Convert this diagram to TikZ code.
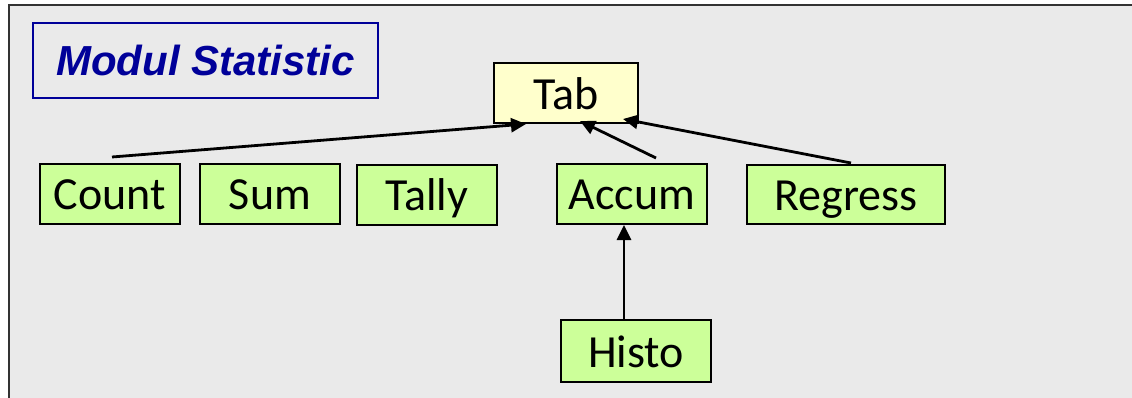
\documentclass[tikz,border=0pt]{standalone}
\usepackage{fontspec}
\setmainfont{Carlito}
\newfontfamily\titlefont{Liberation Sans}
\usetikzlibrary{arrows.meta}
\definecolor{bggray}{HTML}{EAEAEA}
\definecolor{boxgreen}{HTML}{CCFF99}
\definecolor{boxyellow}{HTML}{FFFFCC}
\definecolor{titleblue}{HTML}{000099}
\definecolor{framegray}{HTML}{333333}
\tikzset{
  cls/.style={draw=black, line width=2pt, fill=boxgreen, inner sep=0pt, anchor=north west,
    font=\fontsize{46}{50}\selectfont, text height=36pt, text depth=4pt},
  tabbox/.style={cls, fill=boxyellow},
  conn/.style={line width=2.8pt, -{Triangle[length=15pt,width=14pt]}},
}
\begin{document}
\begin{tikzpicture}[x=1pt,y=-1pt]
\useasboundingbox (0,0) rectangle (1132,398);
\fill[white] (0,0) rectangle (1132,398);
\fill[bggray] (9,5) rectangle (1140,405);
\draw[framegray, line width=2.2pt] (9,405) -- (9,5) -- (1140,5);
% title
\node[draw=titleblue, line width=2pt, anchor=north west, minimum width=345pt, minimum height=75pt, inner sep=0pt,
  font=\titlefont\fontsize{42}{48}\selectfont\bfseries\itshape, text=titleblue] (title) at (32,22) {Modul Statistic};
% class boxes
\node[tabbox, minimum width=144pt, minimum height=60pt, text height=37pt, text depth=3pt] (tab) at (493,62) {Tab};
\node[cls, minimum width=140pt, minimum height=60pt] (count) at (39,163) {Count};
\node[cls, minimum width=140pt, minimum height=60pt] (sum) at (199,163) {Sum};
\node[cls, minimum width=140pt, minimum height=60pt] (tally) at (356,164) {Tally};
\node[cls, minimum width=150pt, minimum height=60pt] (accum) at (556,163) {Accum};
\node[cls, minimum width=198pt, minimum height=59pt] (regress) at (746,164) {Regress};
\node[cls, minimum width=150pt, minimum height=62pt] (histo) at (560,319) {Histo};
% connector free ends
\coordinate (c1) at (112,157);
\coordinate (t1) at (526,124);
\coordinate (c2) at (656,158);
\coordinate (t2) at (580,121);
\coordinate (c3) at (851,163);
\coordinate (t3) at (623,119);
\draw[conn] (c1) -- (t1);
\draw[conn] (c2) -- (t2);
\draw[conn] (c3) -- (t3);
\draw[conn] (histo.north -| 624,0) -- (accum.south -| 624,0);
\end{tikzpicture}
\end{document}
